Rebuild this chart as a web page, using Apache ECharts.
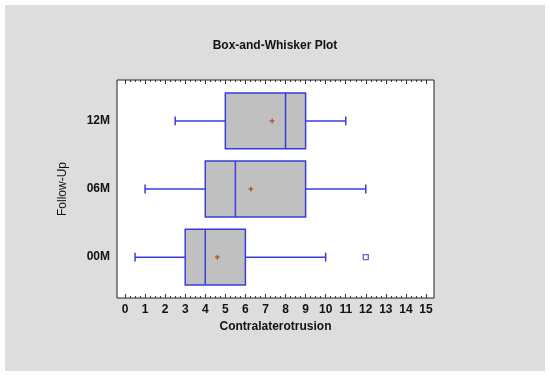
<!DOCTYPE html>
<html>
<head>
<meta charset="utf-8">
<script src="https://cdn.jsdelivr.net/npm/echarts@6/dist/echarts.min.js"></script>
<style>html,body{margin:0;padding:0;background:#fff}#c{width:550px;height:378px}</style>
</head>
<body>
<div id="c"></div>
<script>
// ---- data ----
var categories = ['00M', '06M', '12M'];
var whiskerLow = [0.5, 1, 2.5];
var q1 = [3, 4, 5];
var median = [4, 5.5, 8];
var q3 = [6, 9, 9];
var whiskerHigh = [10, 12, 11];
var means = [4.6, 6.27, 7.33];
var outliers = [[12, 0]]; // [value, category index]
var xTicks = [0,1,2,3,4,5,6,7,8,9,10,11,12,13,14,15];

var minorTicks = [];
for (var i = 0; i < 15; i++) { for (var k = 1; k < 4; k++) minorTicks.push(i + k * 0.25); }

var BLUE = '#3b3bdc';
var boxData = categories.map(function (c, i) {
  return [i, whiskerLow[i], q1[i], median[i], q3[i], whiskerHigh[i], means[i]];
});

function renderBox(params, api) {
  var y = api.value(0);
  var lo = api.coord([api.value(1), y]);
  var b1 = api.coord([api.value(2), y]);
  var md = api.coord([api.value(3), y]);
  var b3 = api.coord([api.value(4), y]);
  var hi = api.coord([api.value(5), y]);
  var mn = api.coord([api.value(6), y]);
  var h = api.size([0, 0.82])[1];
  var cap = api.size([0, 0.13])[1] / 2;
  var cy = lo[1];
  var ls = { stroke: BLUE, lineWidth: 1.5, fill: null };
  return {
    type: 'group',
    children: [
      { type: 'line', shape: { x1: lo[0], y1: cy, x2: b1[0], y2: cy }, style: ls },
      { type: 'line', shape: { x1: b3[0], y1: cy, x2: hi[0], y2: cy }, style: ls },
      { type: 'line', shape: { x1: lo[0], y1: cy - cap, x2: lo[0], y2: cy + cap }, style: ls },
      { type: 'line', shape: { x1: hi[0], y1: cy - cap, x2: hi[0], y2: cy + cap }, style: ls },
      { type: 'rect', shape: { x: b1[0], y: cy - h / 2, width: b3[0] - b1[0], height: h },
        style: { fill: '#c0c0c0', stroke: BLUE, lineWidth: 1.5 } },
      { type: 'line', shape: { x1: md[0], y1: cy - h / 2, x2: md[0], y2: cy + h / 2 }, style: ls },
      { type: 'line', shape: { x1: mn[0] - 2.5, y1: cy, x2: mn[0] + 2.5, y2: cy }, style: { stroke: '#b5451b', lineWidth: 1.2 } },
      { type: 'line', shape: { x1: mn[0], y1: cy - 2.5, x2: mn[0], y2: cy + 2.5 }, style: { stroke: '#b5451b', lineWidth: 1.2 } }
    ]
  };
}

var chart = echarts.init(document.getElementById('c'), null, { renderer: 'canvas' });
var FONT = '"Liberation Sans", Arial, sans-serif';
var XMIN = -0.4, XMAX = 15.4;
function xAxisDef(pos, ticks, len, showLabel, name) {
  return {
    type: 'value', position: pos, min: XMIN, max: XMAX,
    splitLine: { show: false },
    axisLine: { show: false, onZero: false },
    axisTick: { show: true, inside: true, length: len, customValues: ticks, lineStyle: { color: '#333', width: 1 } },
    axisLabel: showLabel ? { show: true, customValues: xTicks, margin: 6, color: '#111', fontWeight: 'bold', fontSize: 12, fontFamily: FONT } : { show: false },
    name: name || '', nameLocation: 'middle', nameGap: 21,
    nameTextStyle: { color: '#111', fontWeight: 'bold', fontSize: 12, fontFamily: FONT }
  };
}

chart.setOption({
  backgroundColor: '#ffffff',
  animation: false,
  graphic: [{ type: 'rect', z: -10, shape: { x: 5, y: 5, width: 540, height: 366 }, style: { fill: '#dddddd' } }],
  title: {
    text: 'Box-and-Whisker Plot', left: 'center', top: 35,
    textStyle: { color: '#111', fontWeight: 'bold', fontSize: 12, fontFamily: FONT }
  },
  grid: {
    left: 117, right: 116, top: 80, bottom: 80,
    show: true, backgroundColor: '#ffffff', borderColor: '#222', borderWidth: 1
  },
  xAxis: [
    xAxisDef('bottom', xTicks, 4, true, 'Contralaterotrusion'),
    xAxisDef('bottom', minorTicks, 2, false),
    xAxisDef('top', xTicks, 4, false),
    xAxisDef('top', minorTicks, 2, false)
  ],
  yAxis: {
    type: 'value', min: -0.6, max: 2.6,
    splitLine: { show: false }, axisLine: { show: false, onZero: false }, axisTick: { show: false },
    axisLabel: {
      show: true, customValues: [0, 1, 2], margin: 7,
      formatter: function (v) { return categories[Math.round(v)]; },
      color: '#111', fontWeight: 'bold', fontSize: 12, fontFamily: FONT
    },
    name: 'Follow-Up', nameLocation: 'middle', nameGap: 48, nameRotate: 90,
    nameTextStyle: { color: '#111', fontSize: 12, fontWeight: 'normal', fontFamily: FONT }
  },
  series: [
    { type: 'custom', xAxisIndex: 0, renderItem: renderBox, data: boxData, encode: { x: [1, 2, 3, 4, 5, 6], y: 0 } },
    { type: 'scatter', xAxisIndex: 0, data: outliers, symbol: 'rect', symbolSize: 5,
      itemStyle: { color: '#ffffff', borderColor: BLUE, borderWidth: 1.3 } }
  ]
});
</script>
</body>
</html>
